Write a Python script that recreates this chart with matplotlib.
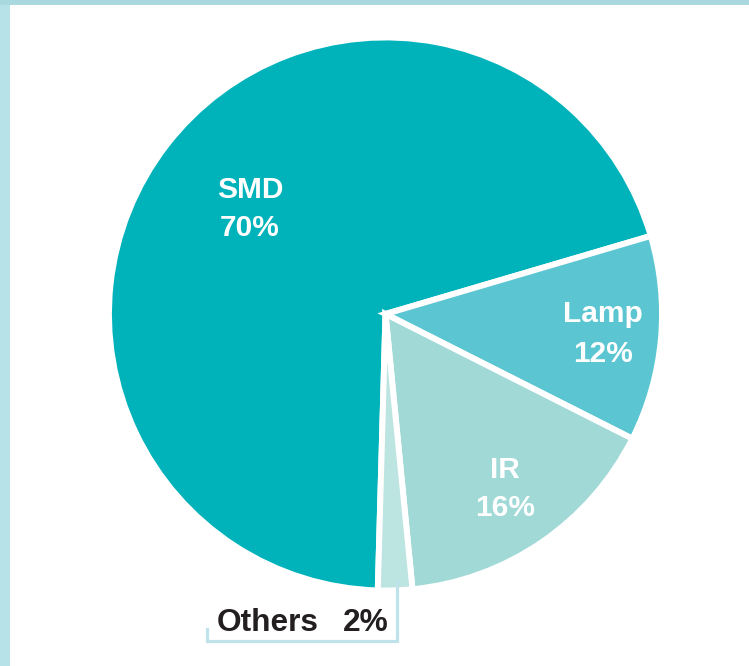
import matplotlib
matplotlib.use("Agg")
import matplotlib.pyplot as plt
from matplotlib.patches import Rectangle
from matplotlib.lines import Line2D

categories = ["SMD", "Lamp", "IR", "Others"]
values = [70, 12, 16, 2]
colors = ["#00B3BB", "#5BC6D1", "#A0D9D6", "#BCE4E1"]

plt.rcParams['font.family'] = ['Liberation Sans', 'DejaVu Sans']

W, H = 749, 666
fig = plt.figure(figsize=(W / 100, H / 100), dpi=100)
fig.patch.set_facecolor("white")
ax = fig.add_axes([0, 0, 1, 1])

cx, cy, R = 385.5, 314, 273  # pixel layout of pie

ax.pie(values, colors=colors, startangle=268.4, counterclock=False, radius=1.013,
       wedgeprops=dict(edgecolor="white", linewidth=4.3))

def d(px, py):
    return (px - cx) / R, (cy - py) / R

ax.set_xlim(-cx / R, (W - cx) / R)
ax.set_ylim(-(H - cy) / R, cy / R)
ax.set_aspect('equal', adjustable='box')
ax.axis('off')

fs = 21.5
lab = dict(color="white", fontsize=fs, fontweight="bold", ha="center", va="center",
           linespacing=1.5)
ax.text(*d(250, 209), f"{categories[0]}\n{values[0]}%", **lab)
ax.text(*d(603, 334), f"{categories[1]}\n{values[1]}%", **lab)
ax.text(*d(505, 489), f"{categories[2]}\n{values[2]}%", **lab)

ax.text(*d(217, 623), categories[3], color="#231F20", fontsize=22.8, fontweight="bold",
        ha="left", va="center")
ax.text(*d(389, 623), f"{values[3]}%", color="#231F20", fontsize=22.8, fontweight="bold",
        ha="right", va="center")

# callout line
xs, ys = zip(d(397, 582), d(397, 641), d(207, 641), d(207, 629))
ax.add_line(Line2D(xs, ys, color="#BEE3EA", linewidth=2.3, solid_joinstyle="miter"))

# light blue frame bands (left and top)
fig.patches.append(Rectangle((0, 0), 10 / W, 1, transform=fig.transFigure,
                             facecolor="#B7E3E8", edgecolor="none", zorder=-1))
fig.patches.append(Rectangle((0, 1 - 5 / H), 1, 5 / H, transform=fig.transFigure,
                             facecolor="#A9D9DF", edgecolor="none", zorder=-1))

fig.savefig("out.png", dpi=100, facecolor="white")
